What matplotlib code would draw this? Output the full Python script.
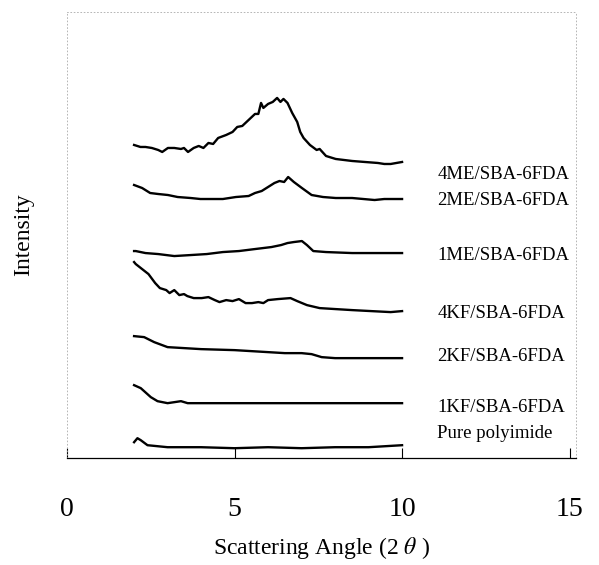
import matplotlib
matplotlib.use("Agg")
import matplotlib.pyplot as plt

plt.rcParams['font.family'] = ['Liberation Serif', 'DejaVu Serif']
plt.rcParams['mathtext.fontset'] = 'stix'

# curves: 2-theta positions and stacked intensity (offset units)
x_4me = [2.0, 2.19, 2.34, 2.53, 2.72, 2.84, 3.01, 3.2, 3.4, 3.49, 3.61, 3.78, 3.93, 4.07,
         4.22, 4.36, 4.51, 4.75, 4.94, 5.08, 5.23, 5.42, 5.61, 5.71, 5.79, 5.86, 6.0, 6.14,
         6.27, 6.37, 6.46, 6.58, 6.72, 6.87, 6.96, 7.06, 7.25, 7.45, 7.54, 7.73, 8.02, 8.51,
         8.89, 9.28, 9.47, 9.66, 10.0]
y_4me = [313, 311, 311, 310, 308, 306, 310, 310, 309, 310, 306, 310, 312, 310,
         315, 314, 320, 323, 326, 331, 332, 338, 344, 344, 355, 350, 354, 356,
         360, 356, 359, 355, 345, 336, 326, 320, 313, 308, 309, 302, 299, 297,
         296, 295, 294, 294, 296]

x_2me = [2.0, 2.24, 2.48, 2.72, 3.01, 3.3, 3.69, 3.98, 4.27, 4.65, 5.04, 5.42, 5.61, 5.81,
         6.0, 6.19, 6.34, 6.48, 6.6, 6.77, 7.01, 7.3, 7.64, 8.02, 8.51, 9.18, 9.47, 10.0]
y_2me = [273, 270, 265, 264, 263, 261, 260, 259, 259, 259, 261, 262, 265, 267,
         271, 275, 277, 276, 281, 276, 270, 263, 261, 260, 260, 258, 259, 259]

x_1me = [2.0, 2.05, 2.34, 2.72, 3.2, 3.69, 4.17, 4.65, 5.13, 5.61, 6.1, 6.39, 6.58, 6.77,
         7.01, 7.16, 7.35, 7.73, 8.51, 9.28, 10.0]
y_1me = [207, 207, 205, 204, 202, 203, 204, 206, 207, 209, 211, 213, 215, 216,
         217, 213, 207, 206, 205, 205, 205]

x_4kf = [2.0, 2.05, 2.24, 2.43, 2.63, 2.77, 2.96, 3.06, 3.2, 3.35, 3.49, 3.59, 3.78, 4.02,
         4.22, 4.41, 4.55, 4.75, 4.94, 5.13, 5.33, 5.52, 5.71, 5.86, 6.0, 6.29, 6.67, 6.87,
         7.16, 7.54, 8.02, 8.51, 9.08, 9.66, 10.0]
y_4kf = [196, 194, 189, 184, 175, 170, 168, 165, 168, 163, 164, 162, 160, 160,
         161, 158, 156, 158, 157, 159, 155, 155, 156, 155, 158, 159, 160, 157,
         153, 150, 149, 148, 147, 146, 147]

x_2kf = [2.0, 2.3, 2.6, 3.0, 3.5, 4.0, 5.0, 6.0, 6.5, 7.0, 7.3, 7.6, 8.0, 9.0, 10.0]
y_2kf = [122, 121, 116, 111, 110, 109, 108, 106, 105, 105, 104, 101, 100, 100, 100]

x_1kf = [2.0, 2.2, 2.5, 2.7, 3.0, 3.2, 3.4, 3.6, 4.0, 5.0, 6.0, 7.0, 8.0, 9.0, 10.0]
y_1kf = [73, 70, 61, 57, 55, 56, 57, 55, 55, 55, 55, 55, 55, 55, 55]

x_pure = [2.0, 2.1, 2.2, 2.4, 2.7, 3.0, 4.0, 5.0, 6.0, 7.0, 8.0, 9.0, 10.0]
y_pure = [16, 20, 18, 13, 12, 11, 11, 10, 11, 10, 11, 11, 13]

labels = ["4ME/SBA-6FDA", "2ME/SBA-6FDA", "1ME/SBA-6FDA", "4KF/SBA-6FDA",
          "2KF/SBA-6FDA", "1KF/SBA-6FDA", "Pure polyimide"]
label_y = [283, 258, 203, 145, 102, 51, 25]

curves = [(x_4me, y_4me), (x_2me, y_2me), (x_1me, y_1me), (x_4kf, y_4kf),
          (x_2kf, y_2kf), (x_1kf, y_1kf), (x_pure, y_pure)]

fig = plt.figure(figsize=(5.99, 5.65), dpi=100)
ax = fig.add_axes([0.112, 0.189, 0.850, 0.790])

for (xs, ys) in curves:
    ax.plot(xs, ys, color='black', lw=1.7)

for text, yy in zip(labels, label_y):
    ax.text(11.05, yy, text, fontsize=13.5, va='center', ha='left')

ax.set_xlim(0, 15.2)
ax.set_ylim(0, 446)
ax.set_xticks([0, 5, 10, 15])
ax.set_yticks([])
ax.tick_params(axis='x', direction='in', length=7, width=0.8, pad=28, labelsize=20)

for side in ['top', 'left', 'right']:
    ax.spines[side].set_linestyle((0, (1, 3)))
    ax.spines[side].set_color('#aaaaaa')
    ax.spines[side].set_linewidth(0.6)
ax.spines['bottom'].set_linewidth(0.9)

ax.set_xlabel("Scattering Angle (2 $\\theta$ )", fontsize=17, labelpad=9)
ax.set_ylabel("Intensity", fontsize=17, labelpad=24)

fig.savefig("out.png", dpi=100)
